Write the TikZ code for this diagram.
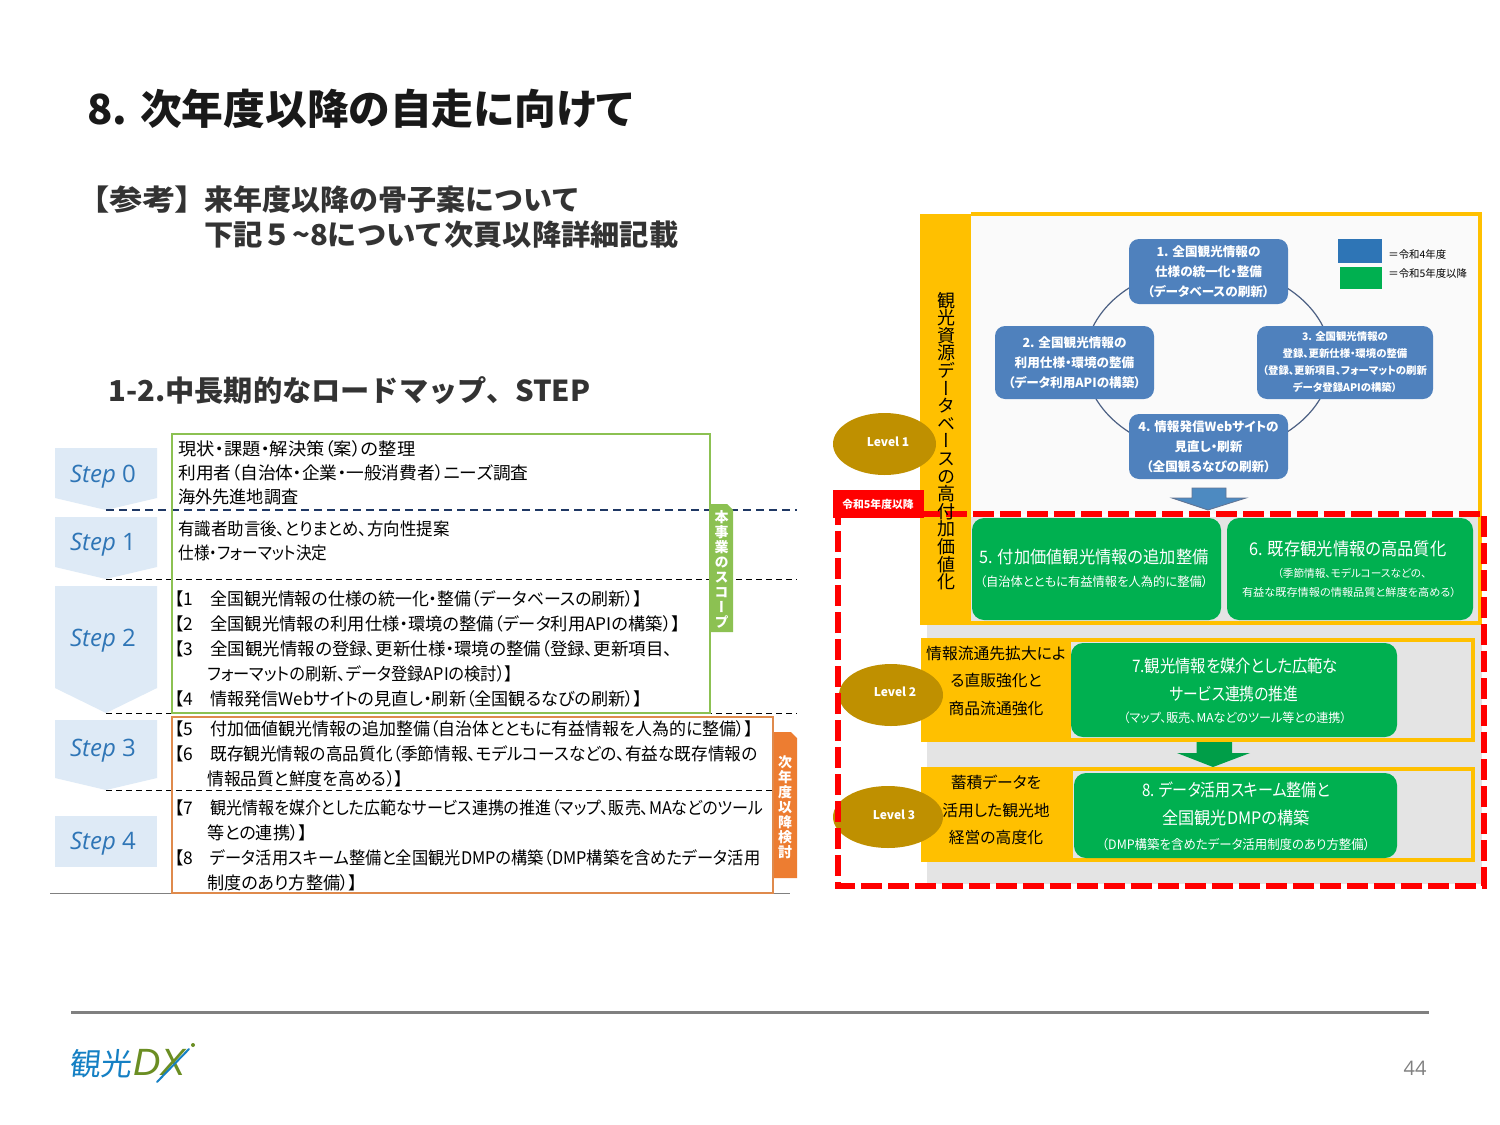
\documentclass[tikz,border=0pt]{standalone}
\usepackage{graphicx}
\usepackage{fontspec}
\setmainfont{Noto Sans CJK JP}[RawFeature=+palt]
\newfontfamily\fullw{Noto Sans CJK JP}
\newfontfamily\vfont{Noto Sans CJK JP}[RawFeature=+vert]
\newfontfamily\latinf{Open Sans}
\newfontfamily\logof{Liberation Sans}
\definecolor{stepbg}{HTML}{DEEAF6}
\definecolor{steptx}{HTML}{2E75B6}
\definecolor{gbox}{HTML}{8CC152}
\definecolor{obox}{HTML}{DF8A4C}
\definecolor{otab}{HTML}{ED7D31}
\definecolor{navy}{HTML}{1F3864}
\definecolor{yel}{HTML}{FFC000}
\definecolor{bl}{HTML}{4F81BD}
\definecolor{gr}{HTML}{00B050}
\definecolor{gld}{HTML}{BF9000}
\definecolor{gy}{HTML}{E4E4E4}
\definecolor{dk}{HTML}{333333}
\definecolor{lgb}{HTML}{1580C4}
\definecolor{lgg}{HTML}{6B8E23}
\newcommand{\fz}[2]{\fontsize{#1pt}{#2pt}\selectfont}
% set a line to a given width in reference pixels, height unchanged
\newcommand{\fw}[2]{\resizebox{\dimexpr#1pt/2\relax}{\height}{#2}}
\usetikzlibrary{shapes.geometric}
\tikzset{
 tl/.style={inner sep=0pt,anchor=west,yshift=-0.2pt,font=\fz{8.7}{10}},
 hd/.style={inner sep=0pt,anchor=west,font=\bfseries\fz{14.4}{16},text=dk},
 steptext/.style={inner sep=0pt,text=steptx,font=\latinf\fz{12}{14}},
 pent/.style={fill=stepbg,draw=none},
 blubox/.style={fill=bl,rounded corners=5pt,inner sep=0pt,align=center,text=white,font=\bfseries\fz{6.3}{10}},
 grbox/.style={fill=gr,rounded corners=6pt,inner sep=0pt},
 grtx/.style={inner sep=0pt,align=center,text=white},
 lvl/.style={ellipse,fill=gld,inner sep=0pt,text=white},
 lvltx/.style={inner sep=0pt,text=white,font=\bfseries\fz{6}{7}},
 yellowtx/.style={inner sep=0pt,align=center,font=\fz{7.9}{13.8}},
 vtab/.style={inner sep=0pt,align=center,text=white,font=\vfont\bfseries\fz{7}{7.5}},
 thind/.style={black,line width=0.5pt,dash pattern=on 3pt off 2pt},
}
\begin{document}
\begin{tikzpicture}[x=0.5pt,y=-0.5pt]
\useasboundingbox (0,0) rectangle (1500,1125);
\fill[white] (0,0) rectangle (1500,1125);
% titles
\node[inner sep=0pt,anchor=west,font=\bfseries\fz{20.7}{24},text=black!90] (title) at (87,109) {\fw{545}{8. 次年度以降の自走に向けて}};
\node[hd] (ref0) at (92,200) {\fw{100}{【参考】}};
\node[hd] (ref1) at (204,200) {\fw{376}{\fullw 来年度以降の骨子案について}};
\node[hd] (ref2) at (204,235) {\fw{474}{\fullw 下記５\textasciitilde 8について次頁以降詳細記載}};
\node[hd] (sub) at (108,391) {\fw{482}{\fullw 1-2.中長期的なロードマップ、STEP}};
% step shapes
\fill[pent] (55,448)--(157,448)--(157,498)--(106,510)--(55,498)--cycle;
\fill[pent] (55,517)--(157,517)--(157,567)--(106,579)--(55,567)--cycle;
\fill[pent] (55,586)--(157,586)--(157,688)--(106,713)--(55,688)--cycle;
\fill[pent] (55,720)--(157,720)--(157,778)--(106,790)--(55,778)--cycle;
\fill[pent] (55,816) rectangle (157,867);
\node[steptext] (s0) at (103,477) {\textit{Step} 0};
\node[steptext] (s1) at (103,545) {\textit{Step} 1};
\node[steptext] (s2) at (103,641) {\textit{Step} 2};
\node[steptext] (s3) at (103,751) {\textit{Step} 3};
\node[steptext] (s4) at (103,844) {\textit{Step} 4};
% dashed rules
\draw[navy,line width=0.8pt,dash pattern=on 4pt off 2.5pt] (106,510)--(797,510);
\draw[thind] (106,579)--(797,579);
\draw[thind] (106,713)--(797,713);
\draw[thind] (106,790)--(773,790);
\draw[gray,line width=0.5pt] (50,893)--(790,893);
% tabs
\fill[gbox] (710,504)--(727,504)--(733,510)--(733,632)--(710,632)--cycle;
\fill[otab] (773,732)--(791,732)--(797,738)--(797,878)--(773,878)--cycle;
\node[vtab] (scope) at (721.5,569.5) {本\\事\\業\\の\\ス\\コ\\ー\\プ};
\node[vtab] (next) at (785,807) {次\\年\\度\\以\\降\\検\\討};
% table frames
\draw[gbox,line width=1pt] (172,434) rectangle (710,713);
\draw[obox,line width=1pt] (172,717) rectangle (773,893);
% table text
\node[tl] (a1) at (178,448) {\fw{237}{現状・課題・解決策（案）の整理}};
\node[tl] (a2) at (178,472) {\fw{350}{利用者（自治体・企業・一般消費者）ニーズ調査}};
\node[tl] (a3) at (178,497) {\fw{120}{海外先進地調査}};
\node[tl] (a4) at (178,528) {\fw{271}{有識者助言後、とりまとめ、方向性提案}};
\node[tl] (a5) at (178,553) {\fw{149}{仕様・フォーマット決定}};
\node[tl] (l1) at (174,598) {【1};
\node[tl] (t1) at (210,598) {\fw{432}{全国観光情報の仕様の統一化・整備（データベースの刷新）】}};
\node[tl] (l2) at (174,623) {【2};
\node[tl] (t2) at (210,623) {\fw{470}{全国観光情報の利用仕様・環境の整備（データ利用APIの構築）】}};
\node[tl] (l3) at (174,648) {【3};
\node[tl] (t3) at (210,648) {\fw{462}{全国観光情報の登録、更新仕様・環境の整備（登録、更新項目、}};
\node[tl] (t3b) at (207,673) {\fw{306}{フォーマットの刷新、データ登録APIの検討）】}};
\node[tl] (l4) at (174,698) {【4};
\node[tl] (t4) at (210,698) {\fw{432}{情報発信Webサイトの見直し・刷新（全国観るなびの刷新）】}};
\node[tl] (l5) at (174,728) {【5};
\node[tl] (t5) at (210,728) {\fw{543}{付加価値観光情報の追加整備（自治体とともに有益情報を人為的に整備）】}};
\node[tl] (l6) at (174,753) {【6};
\node[tl] (t6) at (210,753) {\fw{547}{既存観光情報の高品質化（季節情報、モデルコースなどの、有益な既存情報の}};
\node[tl] (t6b) at (207,778) {\fw{196}{情報品質と鮮度を高める）】}};
\node[tl] (l7) at (174,807) {【7};
\node[tl] (t7) at (210,807) {\fw{553}{観光情報を媒介とした広範なサービス連携の推進（マップ、販売、MAなどのツール}};
\node[tl] (t7b) at (207,832) {\fw{100}{等との連携）】}};
\node[tl] (l8) at (174,857) {【8};
\node[tl] (t8) at (210,857) {\fw{550}{データ活用スキーム整備と全国観光DMPの構築（DMP構築を含めたデータ活用}};
\node[tl] (t8b) at (207,882) {\fw{150}{制度のあり方整備）】}};
% right panel backgrounds
\fill[gy] (927,517) rectangle (1482,884);
\fill[black!2] (970,214) rectangle (1480,514);
\fill[yel] (920,214) rectangle (971,625);
\draw[yel,line width=2pt] (971,214)--(1480,214)--(1480,623)--(971,623);
\draw[yel,line width=2pt] (1000,640)--(1473,640)--(1473,740)--(1000,740);
\fill[yel] (921,638) rectangle (1071,742);
\draw[yel,line width=2pt] (1000,769)--(1473,769)--(1473,860)--(1000,860);
\fill[yel] (921,767) rectangle (1073,862);
% ring behind boxes
\draw[navy!80,line width=0.6pt] (1208,360) ellipse [x radius=123,y radius=94];
\node[blubox,minimum width=79.5pt,minimum height=32.5pt] (b1) at (1208.5,271.5) {1. 全国観光情報の\\仕様の統一化・整備\\（データベースの刷新）};
\node[blubox,minimum width=79.5pt,minimum height=36.5pt] (b2) at (1074.5,362.5) {2. 全国観光情報の\\利用仕様・環境の整備\\（データ利用APIの構築）};
\node[blubox,minimum width=88pt,minimum height=36.5pt,font=\bfseries\fz{5.2}{8.5}] (b3) at (1345,362.5) {3. 全国観光情報の\\登録、更新仕様・環境の整備\\（登録、更新項目、フォーマットの刷新\\データ登録APIの構築）};
\node[blubox,minimum width=79.5pt,minimum height=32.5pt] (b4) at (1208.5,446.5) {4. 情報発信Webサイトの\\見直し・刷新\\（全国観るなびの刷新）};
% legend
\fill[steptx] (1338,239) rectangle (1382,263);
\fill[gr] (1340,267) rectangle (1382,289);
\node[inner sep=0pt,anchor=west,font=\fz{5.2}{6}] (leg1) at (1388,255) {＝令和4年度};
\node[inner sep=0pt,anchor=west,font=\fz{5.2}{6}] (leg2) at (1388,274) {＝令和5年度以降};
% arrows
\draw[fill=steptx!85!white,draw=navy!70,line width=0.4pt] (1192,488)--(1226,488)--(1226,498)--(1246,498)--(1208,510)--(1172,498)--(1192,498)--cycle;
\fill[gr!90!black] (1196.5,742)--(1232,742)--(1232,753)--(1250,753)--(1213,767)--(1177,753)--(1196.5,753)--cycle;
% green boxes
\node[grbox,minimum width=124.5pt,minimum height=51pt] (g5) at (1096.5,569) {};
\node[grbox,minimum width=123pt,minimum height=51pt] (g6) at (1350,569) {};
\node[grbox,minimum width=163pt,minimum height=47pt] (g7) at (1234,690) {};
\node[grbox,minimum width=161.5pt,minimum height=42.5pt] (g8) at (1235.5,815.5) {};
\node[grtx,font=\fz{8.6}{12.5}] (g5a) at (1094,557) {\fw{229}{5. 付加価値観光情報の追加整備}};
\node[grtx,font=\fz{6.3}{8}] (g5b) at (1094,582) {\fw{228}{（自治体とともに有益情報を人為的に整備）}};
\node[grtx,font=\fz{8.8}{12}] (g6a) at (1348,549) {\fw{197}{6. 既存観光情報の高品質化}};
\node[grtx,font=\fz{5.4}{7}] (g6b) at (1352,573) {\fw{149}{（季節情報、モデルコースなどの、}};
\node[grtx,font=\fz{5.4}{7}] (g6c) at (1349,592) {\fw{214}{有益な既存情報の情報品質と鮮度を高める）}};
\node[grtx,font=\fz{8.6}{12}] (g7a) at (1235,666) {\fw{206}{7.観光情報を媒介とした広範な}};
\node[grtx,font=\fz{8.6}{12}] (g7b) at (1234,694) {\fw{128}{サービス連携の推進}};
\node[grtx,font=\fz{6.2}{8}] (g7c) at (1235,718) {\fw{223}{（マップ、販売、MAなどのツール等との連携）}};
\node[grtx,font=\fz{8.6}{12}] (g8a) at (1236,790) {\fw{188}{8. データ活用スキーム整備と}};
\node[grtx,font=\fz{8.6}{12}] (g8b) at (1236,818) {\fw{147}{全国観光DMPの構築}};
\node[grtx,font=\fz{6.5}{8}] (g8c) at (1236,845) {\fw{268}{（DMP構築を含めたデータ活用制度のあり方整備）}};
% level ellipses
\node[lvl,minimum width=51.5pt,minimum height=31pt] (e1) at (884.5,444) {};
\node[lvl,minimum width=52pt,minimum height=31pt] (e2) at (891,695) {};
\node[lvl,minimum width=55pt,minimum height=31pt] (e3) at (888,817) {};
\node[lvltx] (lv1) at (888,442) {Level 1};
\node[lvltx] (lv2) at (895,692) {Level 2};
\node[lvltx] (lv3) at (894,815) {Level 3};
% red dashed frame and label
\draw[red,line width=3pt,dash pattern=on 10.5pt off 3pt] (838,514)--(1484,514)--(1484,886)--(838,886)--cycle;
\fill[red] (833,490) rectangle (924,518);
\node[inner sep=0pt,text=white,font=\bfseries\fz{5.4}{6}] (redl) at (878,504) {令和5年度以降};
% yellow-band text
\node[inner sep=0pt,align=center,font=\vfont\fz{9}{8.8}] (vert) at (946,441) {観\\光\\資\\源\\デ\\ー\\タ\\ベ\\ー\\ス\\の\\高\\付\\加\\価\\値\\化};
\node[yellowtx] (y2) at (996,681) {情報流通先拡大によ\\る直販強化と\\商品流通強化};
\node[yellowtx] (y3) at (996,810) {蓄積データを\\活用した観光地\\経営の高度化};
% footer
\draw[gray,line width=1.5pt] (71,1012)--(1429,1012);
\node[inner sep=0pt,text=gray,font=\latinf\fz{10}{12}] (page) at (1415,1068) {44};
\node[inner sep=0pt,anchor=west,text=lgb,font=\fz{15.5}{17},xslant=0.1] (lg1) at (70,1064) {観光};
\node[inner sep=0pt,anchor=west,text=lgg,font=\logof\itshape\fz{19}{21}] (lg2) at (133,1062) {DX};
\draw[lgb,line width=1pt,line cap=round] (157,1082)--(189,1049);
\fill[lgg] (193,1045) circle (2);
\end{tikzpicture}
\end{document}
